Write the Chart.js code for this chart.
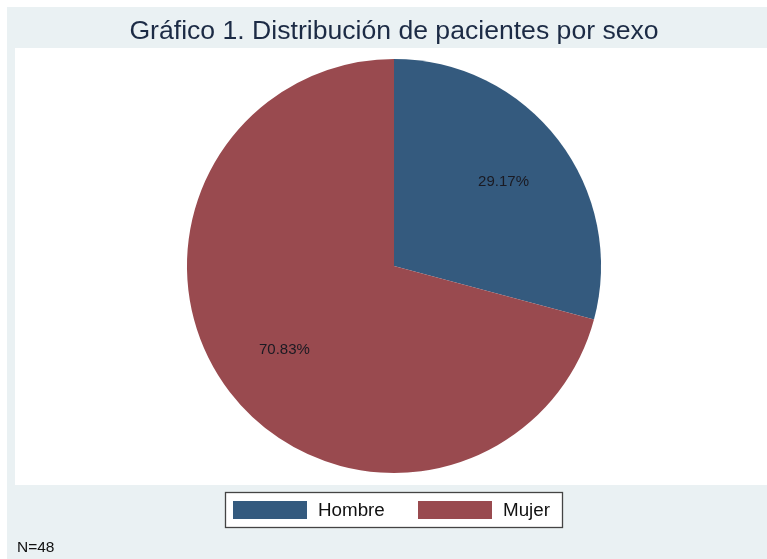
<!DOCTYPE html>
<html>
<head>
<meta charset="utf-8">
<script src="https://cdn.jsdelivr.net/npm/chart.js@4"></script>
<style>
  html, body { margin: 0; padding: 0; background: #ffffff; }
  #wrap { position: relative; width: 767px; height: 559px; }
  canvas { display: block; }
</style>
</head>
<body>
<div id="wrap"><canvas id="c" width="767" height="559"></canvas></div>
<script>
// Data
const categories = ["Hombre", "Mujer"];
const counts = [14, 34];           // N = 48
const percentLabels = ["29.17%", "70.83%"];
const seriesColors = ["#345A7E", "#994A4F"];
const titleText = "Gráfico 1. Distribución de pacientes por sexo";
const noteText = "N=48";

const bgPlugin = {
  id: 'bgPlugin',
  beforeDraw(chart) {
    const ctx = chart.ctx;
    ctx.save();
    ctx.fillStyle = '#ffffff';
    ctx.fillRect(0, 0, chart.width, chart.height);
    ctx.fillStyle = '#EAF1F3';
    ctx.fillRect(7, 7, chart.width - 7, chart.height - 7);
    ctx.fillStyle = '#ffffff';
    ctx.fillRect(15, 48, chart.width - 15, 485 - 48);
    ctx.restore();
  }
};

const labelPlugin = {
  id: 'labelPlugin',
  afterDatasetsDraw(chart) {
    const ctx = chart.ctx;
    const meta = chart.getDatasetMeta(0);
    ctx.save();
    ctx.font = '15px "Liberation Sans", Arial, sans-serif';
    ctx.fillStyle = '#1a1a22';
    ctx.textAlign = 'center';
    ctx.textBaseline = 'middle';
    meta.data.forEach((arc, i) => {
      const p = arc.getProps(['x', 'y', 'startAngle', 'endAngle', 'outerRadius'], true);
      const mid = (p.startAngle + p.endAngle) / 2;
      const r = p.outerRadius * 0.667;
      ctx.fillText(percentLabels[i], p.x + Math.cos(mid) * r, p.y + Math.sin(mid) * r);
    });
    ctx.restore();
  },
  afterDraw(chart) {
    const ctx = chart.ctx;
    ctx.save();
    // legend box
    const bx = 225.5, by = 492.5, bw = 337, bh = 35;
    ctx.fillStyle = '#ffffff';
    ctx.fillRect(bx, by, bw, bh);
    ctx.strokeStyle = '#444444';
    ctx.lineWidth = 1.3;
    ctx.strokeRect(bx, by, bw, bh);
    const swX = [233, 418];
    ctx.font = '18.8px "Liberation Sans", Arial, sans-serif';
    ctx.textBaseline = 'middle';
    ctx.textAlign = 'left';
    categories.forEach((c, i) => {
      ctx.fillStyle = seriesColors[i];
      ctx.fillRect(swX[i], 501, 74, 18);
      ctx.fillStyle = '#111111';
      ctx.fillText(c, swX[i] + 85, 511);
    });
    // note
    ctx.font = '15.5px "Liberation Sans", Arial, sans-serif';
    ctx.fillStyle = '#111111';
    ctx.fillText(noteText, 17, 548);
    ctx.restore();
  }
};

new Chart(document.getElementById('c'), {
  type: 'pie',
  data: {
    labels: categories,
    datasets: [{
      data: counts,
      backgroundColor: seriesColors,
      borderWidth: 0,
      hoverOffset: 0
    }]
  },
  options: {
    responsive: false,
    animation: false,
    events: [],
    layout: { padding: { left: 21, right: 0, top: 0, bottom: 86 } },
    plugins: {
      legend: { display: false },
      tooltip: { enabled: false },
      title: {
        display: true,
        text: titleText,
        color: '#1c2b45',
        font: { family: '"Liberation Sans", Arial, sans-serif', size: 26.6, weight: 'normal', lineHeight: 1.2 },
        padding: { top: 16, bottom: 11 }
      }
    }
  },
  plugins: [bgPlugin, labelPlugin]
});
</script>
</body>
</html>
